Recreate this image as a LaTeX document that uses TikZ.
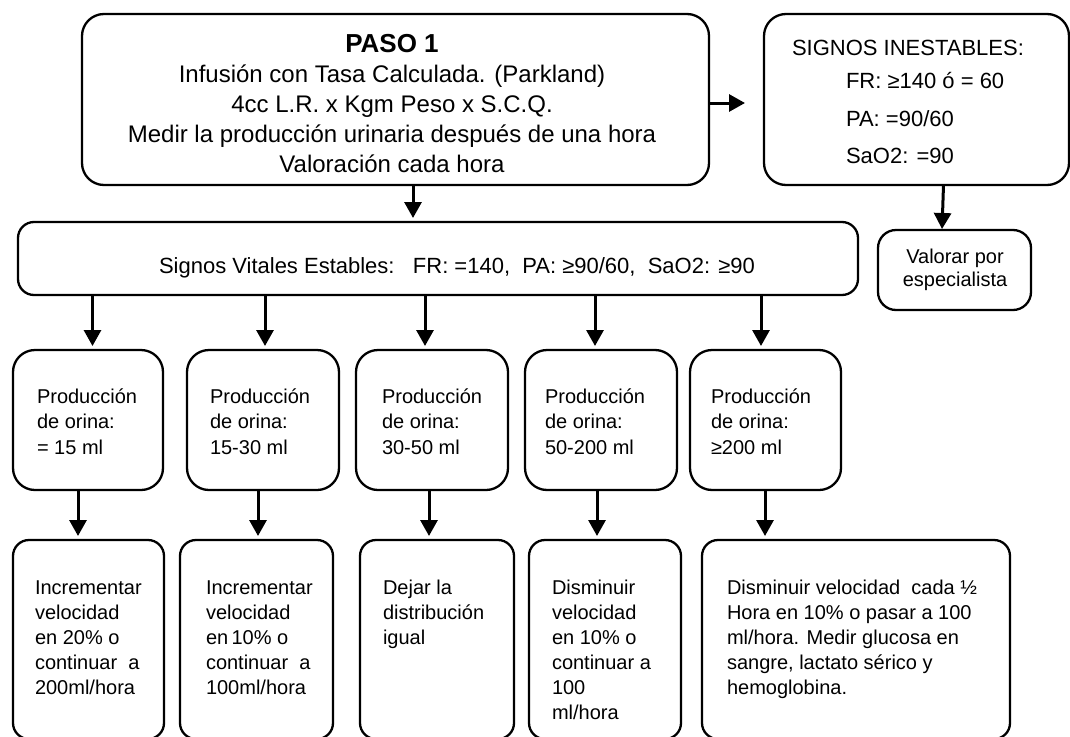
\documentclass[tikz,border=0pt]{standalone}
\usepackage{fontspec}
\setmainfont{Liberation Sans}
\usetikzlibrary{arrows.meta}
\newcommand\mkbox[6]{\node[box, minimum width={(#5-#3)*1pt}, minimum height={(#6-#4)*1pt}] (#2) at ({(#3+#5)/2},{(#4+#6)/2}) {};}
\begin{document}
\begin{tikzpicture}[x=1pt,y=-1pt,
  box/.style={draw, line width=2.3pt, rounded corners=22pt, inner sep=0pt, outer sep=0pt},
  arr/.style={line width=3pt, shorten >=4pt, -{Triangle[length=16pt,width=17pt]}},
  txt/.style={inner sep=0pt, outer sep=0pt, align=left, anchor=base west, font=\fontsize{20}{25.5}\selectfont},
  btxt/.style={txt, font=\fontsize{20}{25}\selectfont},
  ctxt/.style={inner sep=0pt, outer sep=0pt, align=center}]
\clip (0,0) rectangle (1070,736);
\useasboundingbox (0,0) rectangle (1070,736);
% boxes
\mkbox{}{paso}{82}{14}{709}{185}
\mkbox{}{ines}{764}{14}{1069}{185}
\begin{scope}[box/.append style={rounded corners=18pt}]
\mkbox{}{val}{878}{230}{1031}{310}
\end{scope}
\begin{scope}[box/.append style={rounded corners=16pt}]
\mkbox{}{stab}{18}{222}{858}{295}
\end{scope}
\mkbox{}{p1}{13}{350}{163}{490}
\mkbox{}{p2}{187}{350}{339}{490}
\mkbox{}{p3}{356}{350}{508}{490}
\mkbox{}{p4}{525}{350}{677}{490}
\mkbox{}{p5}{690}{350}{841}{490}
\begin{scope}[box/.append style={rounded corners=16pt}]
\mkbox{}{b1}{13}{540}{164}{739}
\mkbox{}{b2}{180}{540}{333}{739}
\mkbox{}{b3}{360}{540}{514}{739}
\mkbox{}{b4}{529}{540}{681}{739}
\mkbox{}{b5}{702}{540}{1010}{739}
\end{scope}
% texts
\node[ctxt, font=\fontsize{24}{30}\selectfont] (tpaso) at (392,104) {{\fontsize{26}{30}\selectfont\bfseries PASO 1}\\
  Infusión con Tasa Calculada. (Parkland)\\
  4cc L.R. x Kgm Peso x S.C.Q.\\
  Medir la producción urinaria después de una hora\\
  Valoración cada hora};
\node[txt, font=\fontsize{22}{22}\selectfont] (tines1) at (792,55) {SIGNOS INESTABLES:};
\node[txt, font=\fontsize{22}{22}\selectfont] (tines2) at (846,88) {FR: ≥140 ó = 60};
\node[txt, font=\fontsize{22}{22}\selectfont] (tines3) at (846,126) {PA: =90/60};
\node[txt, font=\fontsize{22}{22}\selectfont] (tines4) at (846,163) {SaO2: =90};
\node[ctxt, font=\fontsize{20}{22.5}\selectfont] (tval) at (955,270) {Valorar por\\especialista};
\node[txt, font=\fontsize{22}{22}\selectfont] (tstab) at (159,273) {Signos Vitales Estables:\ \ \ FR: =140,\ \ PA: ≥90/60,\ \ SaO2: ≥90};
\node[txt] (tp1) at (37,454) {Producción\\de orina:\\= 15 ml};
\node[txt] (tp2) at (210,454) {Producción\\de orina:\\15-30 ml};
\node[txt] (tp3) at (382,454) {Producción\\de orina:\\30-50 ml};
\node[txt] (tp4) at (545,454) {Producción\\de orina:\\50-200 ml};
\node[txt] (tp5) at (711,454) {Producción\\de orina:\\≥200 ml};
\node[btxt] (tb1) at (35,694) {Incrementar\\velocidad\\en 20\% o\\continuar\ \ a\\200ml/hora};
\node[btxt] (tb2) at (206,694) {Incrementar\\velocidad\\en\,10\% o\\continuar\ \ a\\100ml/hora};
\node[btxt] (tb3) at (383,644) {Dejar la\\distribución\\igual};
\node[btxt] (tb4) at (552,719) {Disminuir\\velocidad\\en 10\% o\\continuar a\\100\\ml/hora};
\node[btxt] (tb5) at (727,694) {Disminuir velocidad\ \ cada ½\\Hora en 10\% o pasar a 100\\ml/hora. Medir glucosa en\\sangre, lactato sérico y\\hemoglobina.};
% connectors
\coordinate (ie) at (749,103);
\draw[arr] ([yshift=-3.5pt]paso.east) -- (ie);
\draw[arr] ([xshift=17.5pt]paso.south) -- ([xshift=-25pt]stab.north);
\draw[arr, shorten >=1pt] ([xshift=27pt]ines.south) -- ([xshift=-12.5pt]val.north);
\draw[arr] ([xshift=4.5pt]stab.south -| p1.north) -- ([xshift=4.5pt]p1.north);
\draw[arr] ([xshift=2pt]stab.south -| p2.north) -- ([xshift=2pt]p2.north);
\draw[arr] ([xshift=-7pt]stab.south -| p3.north) -- ([xshift=-7pt]p3.north);
\draw[arr] ([xshift=-6pt]stab.south -| p4.north) -- ([xshift=-6pt]p4.north);
\draw[arr] ([xshift=-4.5pt]stab.south -| p5.north) -- ([xshift=-4.5pt]p5.north);
\draw[arr] ([xshift=-10pt]p1.south) -- ([xshift=-10.5pt]b1.north);
\draw[arr] ([xshift=-5pt]p2.south) -- ([xshift=1.5pt]b2.north);
\draw[arr] ([xshift=-3pt]p3.south) -- ([xshift=-8pt]b3.north);
\draw[arr] ([xshift=-4pt]p4.south) -- ([xshift=-8pt]b4.north);
\draw[arr] ([xshift=-0.5pt]p5.south) -- ([xshift=-91pt]b5.north);
\end{tikzpicture}
\end{document}
